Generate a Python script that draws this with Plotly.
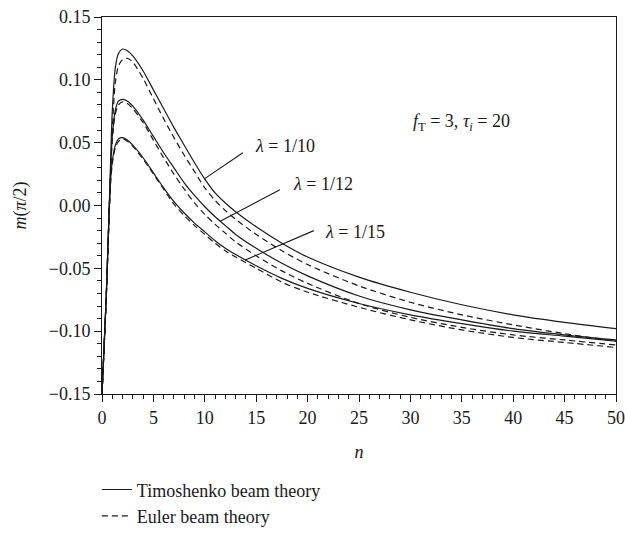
import plotly.graph_objects as go

# ---- data ----
n_vals = [0, 0.4, 0.8, 1.0, 1.3, 1.6, 2.0, 2.5, 3, 4, 5, 6, 7, 8, 9, 10, 11, 12, 13, 15, 17.5, 20,
          25, 30, 35, 40, 45, 50]

timo_10 = [-0.150, -0.075, 0.025, 0.075, 0.110, 0.121, 0.1245, 0.123, 0.119, 0.107, 0.092, 0.077, 0.062, 0.048,
           0.034, 0.021, 0.010, 0.002, -0.005, -0.017, -0.030, -0.041,
           -0.057, -0.069, -0.079, -0.087, -0.093, -0.098]
euler_10 = [-0.150, -0.077, 0.015, 0.060, 0.098, 0.111, 0.116, 0.117, 0.114, 0.101, 0.085, 0.069, 0.054, 0.040,
            0.027, 0.014, 0.004, -0.004, -0.011, -0.023, -0.036, -0.047,
            -0.064, -0.077, -0.087, -0.095, -0.102, -0.108]
timo_12 = [-0.150, -0.075, 0.020, 0.055, 0.076, 0.083, 0.0845, 0.083, 0.079, 0.068, 0.055, 0.042, 0.030, 0.018,
           0.008, -0.001, -0.009, -0.016, -0.023, -0.034, -0.046, -0.056,
           -0.072, -0.083, -0.091, -0.098, -0.103, -0.107]
euler_12 = [-0.150, -0.076, 0.018, 0.052, 0.073, 0.080, 0.0825, 0.081, 0.077, 0.066, 0.052, 0.038, 0.025, 0.013,
            0.002, -0.007, -0.015, -0.022, -0.029, -0.040, -0.052, -0.062,
            -0.078, -0.089, -0.097, -0.103, -0.107, -0.111]
timo_15 = [-0.150, -0.075, 0.015, 0.035, 0.048, 0.053, 0.054, 0.052, 0.048, 0.038, 0.026, 0.014, 0.003, -0.006,
           -0.014, -0.021, -0.028, -0.034, -0.039, -0.048, -0.058, -0.066,
           -0.078, -0.087, -0.094, -0.100, -0.104, -0.108]
euler_15 = [-0.150, -0.076, 0.013, 0.033, 0.046, 0.051, 0.053, 0.051, 0.047, 0.037, 0.025, 0.013, 0.001, -0.008,
            -0.016, -0.023, -0.030, -0.036, -0.041, -0.050, -0.061, -0.069,
            -0.081, -0.091, -0.099, -0.105, -0.109, -0.113]

lambda_labels = ["<i>λ</i> = 1/10", "<i>λ</i> = 1/12", "<i>λ</i> = 1/15"]
x_ticks = list(range(0, 51, 5))
y_ticks = [-0.15, -0.10, -0.05, 0.00, 0.05, 0.10, 0.15]

FONT = "Liberation Serif"
INK = "#1a1a1a"
FS = 18

fig = go.Figure()

series = [
    (timo_10, "solid", "Timoshenko beam theory", True),
    (euler_10, "6px,4px", "Euler beam theory", True),
    (timo_12, "solid", "Timoshenko beam theory", False),
    (euler_12, "6px,4px", "Euler beam theory", False),
    (timo_15, "solid", "Timoshenko beam theory", False),
    (euler_15, "6px,4px", "Euler beam theory", False),
]
for vals, dash, name, show in series:
    fig.add_trace(go.Scatter(
        x=n_vals, y=vals, mode="lines", name=name, showlegend=show,
        line=dict(color=INK, width=1.2, dash=dash, shape="spline", smoothing=0.8),
        cliponaxis=True,
    ))

# pointer lines and labels
pointers = [
    ((9.92, 0.021), (13.7, 0.042), (14.7, 0.047)),
    ((11.5, -0.0125), (17.3, 0.0125), (18.4, 0.017)),
    ((13.9, -0.0435), (20.6, -0.020), (21.5, -0.0213)),
]
for (tail, head, txt), lab in zip(pointers, lambda_labels):
    fig.add_shape(type="line", xref="x", yref="y", x0=tail[0], y0=tail[1], x1=head[0], y1=head[1],
                  line=dict(color=INK, width=1.1))
    fig.add_annotation(x=txt[0], y=txt[1], xref="x", yref="y", text=lab, showarrow=False,
                       xanchor="left", yanchor="middle", font=dict(family=FONT, size=FS, color=INK))

fig.add_annotation(x=30.1, y=0.066, xref="x", yref="y",
                   text="<i>f</i><sub>T</sub> = 3, <i>τ<sub>i</sub></i> = 20",
                   showarrow=False, xanchor="left", yanchor="middle",
                   font=dict(family=FONT, size=FS, color=INK))

axis_common = dict(
    showline=True, linecolor=INK, linewidth=1, mirror=True,
    ticks="outside", ticklen=7, tickwidth=1, tickcolor=INK,
    showgrid=False, zeroline=False,
    tickfont=dict(family=FONT, size=FS, color=INK),
    automargin=False,
)

fig.update_xaxes(
    range=[0, 50], tickvals=x_ticks,
    minor=dict(dtick=1, ticks="outside", ticklen=4, tickcolor=INK, tickwidth=1, showgrid=False),
    title=dict(text="<i>n</i>", font=dict(family=FONT, size=FS, color=INK), standoff=18),
    **axis_common,
)
fig.update_yaxes(
    range=[-0.15, 0.15], tickvals=y_ticks, tickformat=".2f",
    minor=dict(dtick=0.01, ticks="outside", ticklen=4, tickcolor=INK, tickwidth=1, showgrid=False),
    title=dict(text="<i>m</i>(<i>π</i>/2)", font=dict(family=FONT, size=FS, color=INK), standoff=17),
    **axis_common,
)

fig.update_layout(
    width=625, height=535,
    margin=dict(l=102, r=9, t=17, b=141, autoexpand=False),
    paper_bgcolor="white", plot_bgcolor="white",
    font=dict(family=FONT, size=FS, color=INK),
    showlegend=True,
    legend=dict(
        x=-0.01, y=-0.205, xanchor="left", yanchor="top",
        orientation="v", bgcolor="rgba(0,0,0,0)",
        font=dict(family=FONT, size=FS, color=INK),
        itemwidth=30, tracegroupgap=0,
    ),
)

fig.write_html("out.html")
